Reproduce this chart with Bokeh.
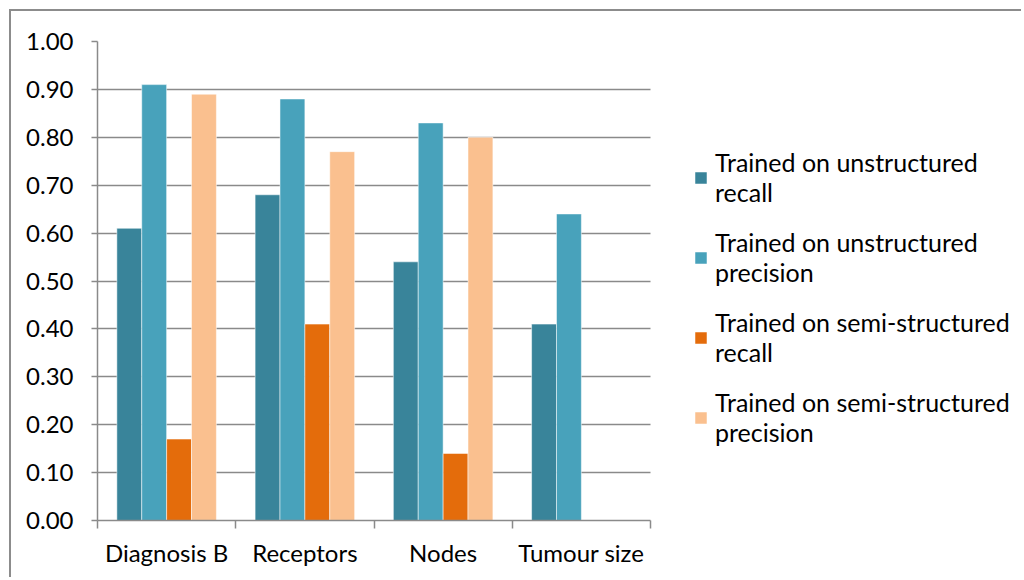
from bokeh.plotting import figure
from bokeh.models import FixedTicker, Legend, LegendItem, Range1d, ColumnDataSource, NumeralTickFormatter
from bokeh.transform import dodge
from bokeh.embed import file_html
from bokeh.resources import INLINE

categories = ["Diagnosis B", "Receptors", "Nodes", "Tumour size"]
unstructured_recall = [0.61, 0.68, 0.54, 0.41]
unstructured_precision = [0.91, 0.88, 0.83, 0.64]
semi_recall = [0.17, 0.41, 0.14, float("nan")]
semi_precision = [0.89, 0.77, 0.80, float("nan")]
series_names = [
    "Trained on unstructured\nrecall",
    "Trained on unstructured\nprecision",
    "Trained on semi-structured\nrecall",
    "Trained on semi-structured\nprecision",
]
y_ticks = [0.0, 0.1, 0.2, 0.3, 0.4, 0.5, 0.6, 0.7, 0.8, 0.9, 1.0]

colors = ["#39849A", "#48A2BB", "#E46C0B", "#FAC08F"]
FONT = "Lato"
GRAY = "#8a8a8a"

# layout (pixels)
W, H = 1012, 568
ML, MT, MR, MB = 86, 30, 8, 59
BAR_AREA_W = 553          # width of the bar area inside the frame
frame_w = W - ML - MR
n = len(categories)
x_end = n * frame_w / BAR_AREA_W

centers = [i + 0.5 for i in range(n)]
source = ColumnDataSource(dict(
    x=centers,
    s0=unstructured_recall,
    s1=unstructured_precision,
    s2=semi_recall,
    s3=semi_precision,
))

p = figure(width=W, height=H, output_backend="svg", toolbar_location=None,
           x_range=Range1d(0, x_end), y_range=Range1d(0, 1.0),
           min_border_left=ML, min_border_top=MT, min_border_right=MR, min_border_bottom=MB)
p.styles = {"border-top": "2px solid #8c8c8c", "border-left": "2px solid #8c8c8c",
            "margin-top": "9px", "margin-left": "9px"}
p.outline_line_color = None
p.background_fill_color = "white"
p.border_fill_color = "white"

# grid lines limited to the bar area
p.xgrid.grid_line_color = None
yg = p.ygrid[0]
if hasattr(yg, "cross_bounds"):
    yg.ticker = FixedTicker(ticks=y_ticks)
    yg.cross_bounds = (0, n)
    yg.grid_line_color = GRAY
    yg.grid_line_width = 1.5
else:
    yg.grid_line_color = None
    p.segment(x0=[0] * len(y_ticks), x1=[n] * len(y_ticks), y0=y_ticks, y1=y_ticks,
              line_color=GRAY, line_width=1.5)

bar_w = 0.18
offsets = [-0.27, -0.09, 0.09, 0.27]
renderers = []
for k in range(4):
    r = p.vbar(x=dodge("x", offsets[k], range=p.x_range), top="s%d" % k, bottom=0, width=bar_w,
               source=source, fill_color=colors[k], line_color="white", line_alpha=0.5, line_width=1)
    renderers.append(r)

p.yaxis.ticker = FixedTicker(ticks=y_ticks)
p.yaxis.formatter = NumeralTickFormatter(format="0.00")
p.yaxis.axis_line_color = GRAY
p.yaxis.axis_line_width = 1.5
p.yaxis.major_tick_line_color = GRAY
p.yaxis.major_tick_line_width = 1.5
p.yaxis.major_tick_out = 6
p.yaxis.major_tick_in = 0
p.yaxis.minor_tick_line_color = None
p.yaxis.major_label_text_font = FONT
p.yaxis.major_label_text_font_size = "24px"
p.yaxis.major_label_text_color = "black"
p.yaxis.major_label_standoff = 18

p.xaxis.bounds = (0, n)
p.xaxis.ticker = FixedTicker(ticks=centers, minor_ticks=list(range(n + 1)))
p.xaxis.major_label_overrides = {c: name for c, name in zip(centers, categories)}
p.xaxis.axis_line_color = GRAY
p.xaxis.axis_line_width = 1.5
p.xaxis.major_tick_line_color = None
p.xaxis.major_tick_out = 0
p.xaxis.major_tick_in = 0
p.xaxis.minor_tick_line_color = GRAY
p.xaxis.minor_tick_line_width = 1.5
p.xaxis.minor_tick_out = 8
p.xaxis.minor_tick_in = 0
p.xaxis.major_label_text_font = FONT
p.xaxis.major_label_text_font_size = "24px"
p.xaxis.major_label_text_color = "black"
p.xaxis.major_label_standoff = 9

legend = Legend(items=[LegendItem(label=series_names[k], renderers=[renderers[k]]) for k in range(4)],
                location=(596, 73))
legend.label_text_font = FONT
legend.label_text_font_size = "25px"
legend.label_text_color = "black"
legend.label_text_line_height = 1.5
legend.glyph_width = 15
legend.glyph_height = 15
legend.label_standoff = 7
legend.spacing = 20
legend.padding = 0
legend.margin = 0
legend.border_line_color = None
legend.background_fill_alpha = 0
p.add_layout(legend, "center")

open("out.html", "w").write(file_html(p, INLINE))
